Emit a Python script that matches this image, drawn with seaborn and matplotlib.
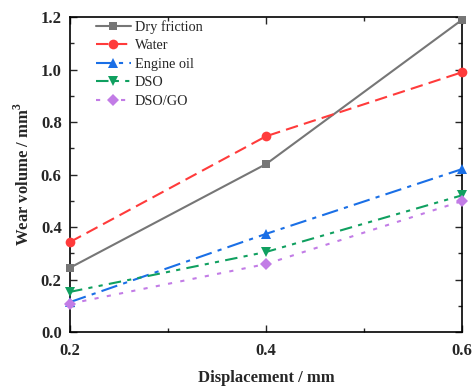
import matplotlib
matplotlib.use("Agg")
import matplotlib.pyplot as plt
import seaborn as sns
import pandas as pd
from matplotlib.ticker import MultipleLocator, FormatStrFormatter

sns.set_theme(style="ticks")
plt.rcParams['font.family'] = ['Liberation Serif', 'DejaVu Serif']
plt.rcParams['mathtext.fontset'] = 'custom'
plt.rcParams['mathtext.rm'] = 'Liberation Serif'
plt.rcParams['mathtext.bf'] = 'Liberation Serif:bold'

displacement = [0.2, 0.4, 0.6]
dry_friction = [0.245, 0.64, 1.19]
water = [0.343, 0.746, 0.99]
engine_oil = [0.114, 0.374, 0.621]
dso = [0.153, 0.305, 0.521]
dso_go = [0.108, 0.259, 0.499]

series_names = ["Dry friction", "Water", "Engine oil", "DSO", "DSO/GO"]
series_values = [dry_friction, water, engine_oil, dso, dso_go]
colors = ["#767676", "#ff3b3b", "#1a6fe6", "#10a060", "#c27ce6"]
markers = ["s", "o", "^", "v", "D"]
linestyles = ["-", (0, (6, 3)), (0, (8, 3, 2, 3)), (0, (6, 3, 2, 3, 2, 3)), (0, (2, 4))]
msizes = [6, 7, 7, 7, 6]

df = pd.DataFrame([
    {"Displacement": x, "Wear": y, "Condition": n}
    for n, vals in zip(series_names, series_values)
    for x, y in zip(displacement, vals)
])

fig = plt.figure(figsize=(4.73, 3.89), dpi=100)
ax = fig.add_axes([0.148, 0.1465, 0.829, 0.8095])

for n, c, m, ls, ms in zip(series_names, colors, markers, linestyles, msizes):
    sub = df[df["Condition"] == n]
    sns.lineplot(data=sub, x="Displacement", y="Wear", ax=ax, color=c,
                 marker=m, markersize=ms, markeredgewidth=0, linewidth=1.5,
                 linestyle=ls, label=n, clip_on=False, zorder=3)

ax.set_xlim(0.2, 0.6)
ax.set_ylim(0.0, 1.2)
ax.xaxis.set_major_locator(MultipleLocator(0.2))
ax.xaxis.set_minor_locator(MultipleLocator(0.1))
ax.yaxis.set_major_locator(MultipleLocator(0.2))
ax.yaxis.set_minor_locator(MultipleLocator(0.1))
ax.xaxis.set_major_formatter(FormatStrFormatter("%.1f"))
ax.yaxis.set_major_formatter(FormatStrFormatter("%.1f"))
ax.tick_params(which="both", direction="in", top=True, right=True, width=1.0)
ax.tick_params(which="major", length=5, labelsize=12)
ax.tick_params(axis="x", which="major", pad=8)
ax.tick_params(axis="y", which="major", pad=6)
ax.tick_params(which="minor", length=3)
for lbl in ax.get_xticklabels() + ax.get_yticklabels():
    lbl.set_fontweight("bold")
for s in ax.spines.values():
    s.set_linewidth(1.2)
    s.set_color("black")

ax.set_xlabel("Displacement / mm", fontsize=12, fontweight="bold", labelpad=8)
ax.set_ylabel(r"Wear volume / mm$^\mathbf{3}$", fontsize=12, fontweight="bold", labelpad=6)

leg = ax.legend(loc="upper left", bbox_to_anchor=(0.045, 1.018), frameon=False,
                fontsize=10.3, handlelength=2.4, handletextpad=0.3,
                labelspacing=0.38, borderaxespad=0.2)

fig.savefig("out.png", dpi=100)
